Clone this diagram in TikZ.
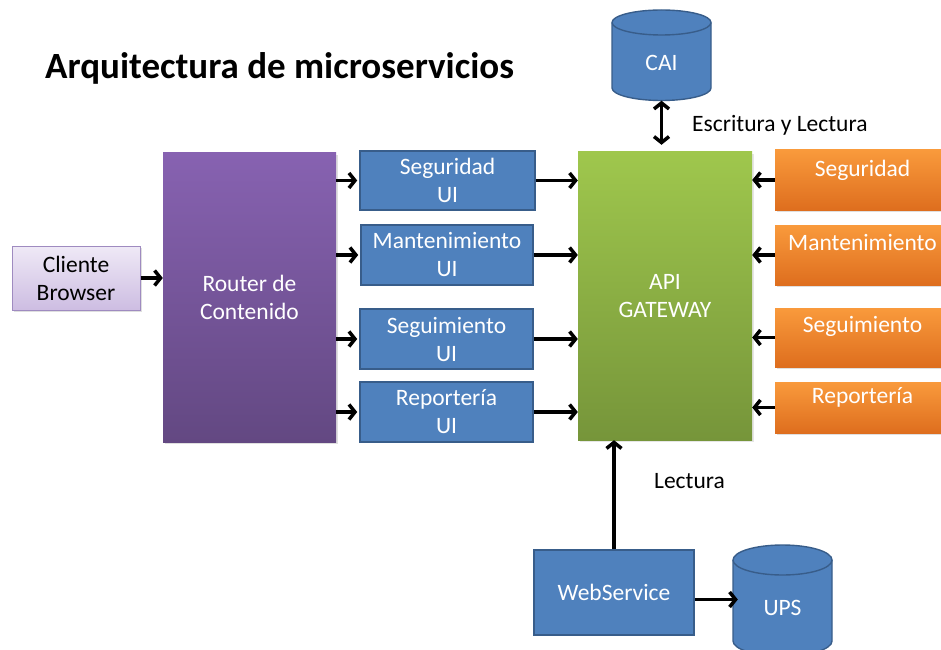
\documentclass[tikz,border=0pt]{standalone}
\usepackage{fontspec}
\setmainfont{Carlito}
\usetikzlibrary{arrows.meta,shadows,calc}
\definecolor{bluefill}{HTML}{4F81BD}
\definecolor{blueline}{HTML}{385D8A}
\definecolor{purtop}{HTML}{8762B1}
\definecolor{purbot}{HTML}{634882}
\definecolor{clitop}{HTML}{EFE9F6}
\definecolor{clibot}{HTML}{CDBDE2}
\definecolor{cliline}{HTML}{9F8BC0}
\definecolor{grtop}{HTML}{9FC74D}
\definecolor{grbot}{HTML}{76953A}
\definecolor{ortop}{HTML}{F99A3C}
\definecolor{orbot}{HTML}{DE6E1E}
\begin{document}
\begin{tikzpicture}[x=1pt,y=1pt,
  txt/.style={font=\fontsize{23.5}{28}\selectfont, align=center, inner sep=0pt},
  wtxt/.style={txt, text=white},
  uibox/.style={wtxt, draw=blueline, line width=1.6pt, fill=bluefill, minimum width=173, minimum height=60},
  obox/.style={draw=none, top color=ortop, bottom color=orbot, minimum width=175, inner sep=0pt,
     drop shadow={shadow xshift=2pt, shadow yshift=-2pt, opacity=0.25}},
  hidden/.style={inner sep=0pt, draw=none},
  tip/.tip={Straight Barb[length=6pt,width=15pt,line width=3.5pt]},
  arr/.style={line width=3.5pt, -tip},
  darr/.style={line width=3.5pt, tip-tip},
  cyl/.style={fill=bluefill, draw=blueline, line width=1.4pt}
]
\useasboundingbox (0,0) rectangle (941,649);

% title
\node[anchor=west, inner sep=0pt, font=\fontsize{37}{42}\selectfont\bfseries] (title) at (45,581) {Arquitectura de microservicios};

% CAI cylinder
\path[cyl] (612,626.5) -- (612,561) arc (180:360:49.5 and 12.5) -- (711,626.5) arc (0:180:49.5 and 12.5) -- cycle;
\draw[blueline, line width=1.4pt] (612,626.5) arc (180:360:49.5 and 12.5);
\node[hidden, minimum width=99, minimum height=92] (cai) at (661.5,594.5) {};
\node[wtxt] (caitxt) at (661.5,586) {CAI};

% client and router
\node[txt, draw=cliline, line width=1pt, top color=clitop, bottom color=clibot, minimum width=128, minimum height=64,
   drop shadow={shadow xshift=2pt, shadow yshift=-2pt, opacity=0.25}] (cli) at (76,371) {Cliente\\Browser};
\node[wtxt, draw=none, top color=purtop, bottom color=purbot, minimum width=173, minimum height=289,
   drop shadow={shadow xshift=2pt, shadow yshift=-2pt, opacity=0.25}] (router) at (249.5,351.5) {Router de\\Contenido};

% UI boxes
\node[uibox, minimum width=175, minimum height=59] (segui) at (447.5,468.5) {Seguridad\\UI};
\node[uibox, minimum width=172] (mantui) at (447,394) {Mantenimiento\\UI};
\node[uibox] (seguiui) at (446.5,310) {Seguimiento\\UI};
\node[uibox] (repui) at (446.5,237) {Reportería\\UI};

% API gateway
\node[wtxt, draw=none, top color=grtop, bottom color=grbot, minimum width=174, minimum height=288,
   drop shadow={shadow xshift=2pt, shadow yshift=-2pt, opacity=0.2}] (api) at (665,353) {API\\GATEWAY};

% orange services
\node[obox, minimum height=60] (oseg) at (862.5,469) {};
\node[obox, minimum height=60] (omant) at (862.5,394) {};
\node[obox, minimum height=59] (osegu) at (862.5,311.5) {};
\node[obox, minimum height=51] (orep) at (862.5,241.5) {};
\node[wtxt] (osegt) at ([yshift=-21]oseg.north) {Seguridad};
\node[wtxt] (omantt) at ([yshift=-18]omant.north) {Mantenimiento};
\node[wtxt] (osegut) at ([yshift=-19]osegu.north) {Seguimiento};
\node[wtxt] (orept) at ([yshift=-16]orep.north) {Reportería};

% WebService and UPS
\node[uibox, minimum width=160, minimum height=85] (ws) at (614,56.5) {WebService};
\path[cyl] (733,89) -- (733,8) arc (180:360:49.5 and 15) -- (832,89) arc (0:180:49.5 and 15) -- cycle;
\draw[blueline, line width=1.4pt] (733,89) arc (180:360:49.5 and 15);
\node[hidden, minimum width=99, minimum height=108] (ups) at (782.5,50) {};
\node[wtxt] (upstxt) at (782.5,41) {UPS};

% labels
\node[txt, anchor=west] (lblcai) at (692,524) {Escritura y Lectura};
\node[txt] (lbllec) at (689.5,168) {Lectura};

% connectors
\draw[darr, shorten >=7pt] (cai.south) -- (api.north -| cai.south);
\draw[arr] (cli.east) -- (router.west |- cli.east);
\foreach \u in {segui,mantui,seguiui,repui}{
  \draw[arr, shorten >=2pt] (router.east |- \u.west) -- (\u.west);
  \draw[arr] (\u.east) -- (api.west |- \u.east);
}
\foreach \o in {oseg,omant,osegu,orep}{
  \draw[arr] (\o.west) -- (api.east |- \o.west);
}
\draw[arr] (ws.north) -- (ws.north |- api.south);
\draw[arr] ([yshift=-7]ws.east) -- ($(ws.east -| ups.west)+(5,-7)$);
\end{tikzpicture}
\end{document}
